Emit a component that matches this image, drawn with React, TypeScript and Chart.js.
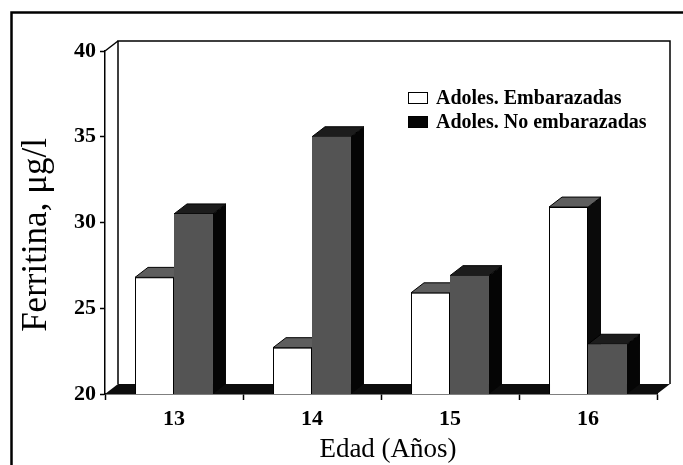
import React, { useEffect, useRef } from 'react';
import { Chart, registerables } from 'chart.js';

Chart.register(...registerables);

const categories = ['13', '14', '15', '16'];
const seriesLabels = ['Adoles. Embarazadas', 'Adoles. No embarazadas'];
const embarazadas = [26.8, 22.7, 25.9, 30.9];
const noEmbarazadas = [30.5, 35.0, 26.9, 22.9];
const yTicks = [20, 25, 30, 35, 40];
const xTitle = 'Edad (Años)';
const yTitle = 'Ferritina, μg/l';

const DX = 13;
const DY = 10;
const SERIF = '"Liberation Serif", "Times New Roman", serif';

const faceStyles = [
  { front: '#ffffff', top: '#5e5e5e', side: '#0a0a0a', border: '#000000', legend: '#ffffff' },
  { front: '#545454', top: '#1c1c1c', side: '#050505', border: '#3a3a3a', legend: '#050505' },
];

const threeDPlugin = {
  id: 'threeD',
  beforeDraw(chart: any) {
    const ctx = chart.ctx;
    ctx.save();
    ctx.fillStyle = '#ffffff';
    ctx.fillRect(0, 0, chart.width, chart.height);
    ctx.strokeStyle = '#000';
    ctx.lineWidth = 2.5;
    ctx.beginPath();
    ctx.moveTo(11.5, chart.height);
    ctx.lineTo(11.5, 12.5);
    ctx.lineTo(chart.width, 12.5);
    ctx.stroke();
    ctx.restore();
  },
  beforeDatasetsDraw(chart: any) {
    const ctx = chart.ctx;
    const { left: L, right: R, top: T, bottom: B } = chart.chartArea;
    ctx.save();
    // back wall
    ctx.strokeStyle = '#000';
    ctx.lineWidth = 1.5;
    ctx.beginPath();
    ctx.moveTo(L + DX, B - DY);
    ctx.lineTo(L + DX, T - DY);
    ctx.lineTo(R + DX, T - DY);
    ctx.lineTo(R + DX, B - DY);
    ctx.stroke();
    ctx.beginPath();
    ctx.moveTo(L, T);
    ctx.lineTo(L + DX, T - DY);
    ctx.stroke();
    // floor
    ctx.fillStyle = '#0d0d0d';
    ctx.beginPath();
    ctx.moveTo(L, B);
    ctx.lineTo(R, B);
    ctx.lineTo(R + DX, B - DY);
    ctx.lineTo(L + DX, B - DY);
    ctx.closePath();
    ctx.fill();
    // bar sides and tops
    chart.data.datasets.forEach((_ds: any, i: number) => {
      const meta = chart.getDatasetMeta(i);
      const st = faceStyles[i];
      meta.data.forEach((el: any) => {
        const p = el.getProps(['x', 'y', 'base', 'width'], true);
        const x = p.x;
        const y = p.y;
        const width = p.width;
        const base = Math.min(p.base, B);
        const l = x - width / 2;
        const r = x + width / 2;
        ctx.fillStyle = st.side;
        ctx.beginPath();
        ctx.moveTo(r, y);
        ctx.lineTo(r + DX, y - DY);
        ctx.lineTo(r + DX, base - DY);
        ctx.lineTo(r, base);
        ctx.closePath();
        ctx.fill();
        ctx.fillStyle = st.top;
        ctx.beginPath();
        ctx.moveTo(l, y);
        ctx.lineTo(l + DX, y - DY);
        ctx.lineTo(r + DX, y - DY);
        ctx.lineTo(r, y);
        ctx.closePath();
        ctx.fill();
        ctx.strokeStyle = '#000';
        ctx.lineWidth = 1;
        ctx.stroke();
      });
    });
    ctx.restore();
  },
  afterDraw(chart: any) {
    const ctx = chart.ctx;
    const { left: L, right: R, top: T } = chart.chartArea;
    ctx.save();
    // legend
    const lx = L + 303;
    const ly = T + 47;
    ctx.font = `bold 20px ${SERIF}`;
    ctx.textBaseline = 'middle';
    ctx.textAlign = 'left';
    seriesLabels.forEach((lab, i) => {
      const yy = ly + i * 24;
      ctx.fillStyle = faceStyles[i].legend;
      ctx.fillRect(lx, yy - 6, 20, 12);
      ctx.strokeStyle = '#000';
      ctx.lineWidth = 1;
      ctx.strokeRect(lx + 0.5, yy - 5.5, 19, 11);
      ctx.fillStyle = '#000';
      ctx.fillText(lab, lx + 28, yy + 1);
    });
    // axis titles
    ctx.fillStyle = '#000';
    ctx.font = `27px ${SERIF}`;
    ctx.textAlign = 'center';
    ctx.textBaseline = 'alphabetic';
    ctx.fillText(xTitle, (L + R) / 2 + 7, 457);
    ctx.translate(46, 235);
    ctx.rotate(-Math.PI / 2);
    ctx.font = `35px ${SERIF}`;
    ctx.fillText(yTitle, 0, 0);
    ctx.restore();
  },
};

export default function App() {
  const ref = useRef<HTMLCanvasElement | null>(null);
  useEffect(() => {
    if (!ref.current) return;
    const chart = new Chart(ref.current, {
      type: 'bar',
      data: {
        labels: categories,
        datasets: [
          {
            label: seriesLabels[0],
            data: embarazadas,
            backgroundColor: faceStyles[0].front,
            borderColor: faceStyles[0].border,
            borderWidth: 1,
            barPercentage: 1,
            categoryPercentage: 0.565,
          },
          {
            label: seriesLabels[1],
            data: noEmbarazadas,
            backgroundColor: faceStyles[1].front,
            borderColor: faceStyles[1].border,
            borderWidth: 0,
            barPercentage: 1,
            categoryPercentage: 0.565,
          },
        ],
      },
      options: {
        animation: false,
        responsive: false,
        layout: { padding: { top: 51, right: 26, left: 0, bottom: 0 } },
        plugins: { legend: { display: false }, tooltip: { enabled: false } },
        scales: {
          x: {
            afterFit: (s: any) => { s.height = 71; },
            grid: { drawOnChartArea: false, offset: true, tickLength: 6, tickColor: '#000', tickWidth: 1.5 },
            border: { color: '#000', width: 1.5 },
            ticks: { color: '#000', font: { family: SERIF, size: 22, weight: 'bold' }, padding: 6 },
          },
          y: {
            min: 20,
            max: 40,
            afterBuildTicks: (s: any) => { s.ticks = yTicks.map((v) => ({ value: v })); },
            afterFit: (s: any) => { s.width = 105; },
            grid: { drawOnChartArea: false, tickLength: 5, tickColor: '#000', tickWidth: 1.5 },
            border: { color: '#000', width: 1.5 },
            ticks: { color: '#000', font: { family: SERIF, size: 22, weight: 'bold' }, padding: 4 },
          },
        },
      },
      plugins: [threeDPlugin],
    } as any);
    return () => chart.destroy();
  }, []);
  return (
    <div style={{ position: 'absolute', left: 0, top: 0, width: 683, height: 465, background: '#fff' }}>
      <canvas ref={ref} width={683} height={465} style={{ display: 'block' }} />
    </div>
  );
}
